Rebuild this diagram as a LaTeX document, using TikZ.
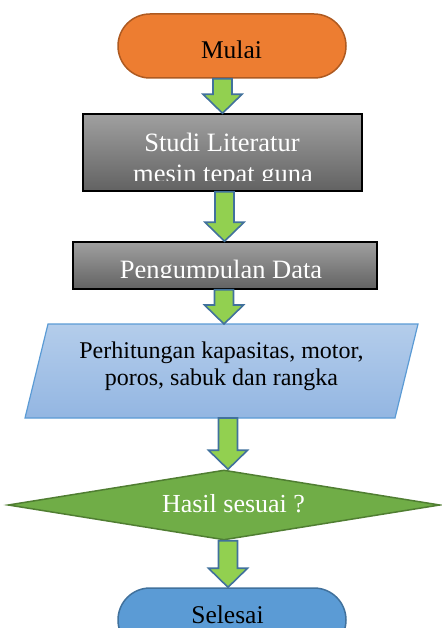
\documentclass[tikz,border=0pt]{standalone}
\usepackage{fontspec}
\setmainfont{Liberation Serif}
\usetikzlibrary{shapes.misc,shapes.geometric,calc}
\definecolor{orangef}{HTML}{ED7D31}
\definecolor{oranged}{HTML}{AE5A21}
\definecolor{bluef}{HTML}{5B9BD5}
\definecolor{blued}{HTML}{41719C}
\definecolor{greenf}{HTML}{70AD47}
\definecolor{greend}{HTML}{507E32}
\definecolor{arrowf}{HTML}{92D050}
\definecolor{arrowd}{HTML}{41719C}
\definecolor{grayt}{RGB}{160,160,160}
\definecolor{grayb}{RGB}{98,98,98}
\definecolor{parat}{HTML}{B4CDEB}
\definecolor{parab}{HTML}{93B6E2}
\definecolor{parad}{HTML}{5B9BD5}
\newcommand\flowarrow[3]{%
  \draw[blockarr] let \p1=(#2), \p2=(#3) in
    (#1pt-9.5pt,\y1) -- (#1pt+9.5pt,\y1) -- (#1pt+9.5pt,\y2+19pt) --
    (#1pt+19.5pt,\y2+19pt) -- (#1pt,\y2) -- (#1pt-19.5pt,\y2+19pt) --
    (#1pt-9.5pt,\y2+19pt) -- cycle;}
\begin{document}
\begin{tikzpicture}[x=1pt,y=-1pt,
  terminal/.style={rounded rectangle, minimum width=228pt, minimum height=64pt,
    line width=1.5pt, inner sep=0pt},
  graybox/.style={rectangle, draw=black, line width=1.5pt, top color=grayt,
    bottom color=grayb, inner sep=0pt},
  lbl/.style={anchor=base, inner sep=0pt, font=\fontsize{26.5}{30}\selectfont},
  tlbl/.style={anchor=base, inner sep=0pt, font=\fontsize{25.5}{30}\selectfont},
  plbl/.style={anchor=base, inner sep=0pt, font=\fontsize{24}{28}\selectfont},
  blockarr/.style={draw=arrowd, fill=arrowf, line width=1.6pt, line join=miter},
]
\useasboundingbox (0,0) rectangle (441,628);

% Mulai
\node[terminal, fill=orangef, draw=oranged] (mulai) at (232,46) {};
\begin{scope}
  \clip (0,0) rectangle (441,57.5);
  \node[tlbl, text=black] (mulaiT) at (231.5,59) {Mulai};
\end{scope}

% Studi Literatur
\node[graybox, minimum width=279pt, minimum height=77pt] (studi) at (222.5,152.5) {};
\begin{scope}
  \clip (0,0) rectangle (441,181);
  \node[lbl, text=white] (studiA) at (222,152) {Studi Literatur};
  \node[lbl, text=white] (studiB) at (223,182.5) {mesin tepat guna};
\end{scope}

% Pengumpulan Data
\node[graybox, minimum width=304pt, minimum height=47pt] (kumpul) at (225,265.5) {};
\begin{scope}
  \clip (0,0) rectangle (441,277);
  \node[lbl, text=white] (kumpulT) at (221,278.5) {Pengumpulan Data};
\end{scope}

% Perhitungan (parallelogram)
\shade[top color=parat, bottom color=parab, draw=parad, line width=1.2pt]
  (48,324) -- (418,324) -- (395,418) -- (25,418) -- cycle;
\coordinate (calcTop) at (224,324);
\coordinate (calcBot) at (228,418);
\node[plbl] (calcA) at (221.5,358) {Perhitungan kapasitas, motor,};
\node[plbl] (calcB) at (221.5,385) {poros, sabuk dan rangka};

% Hasil sesuai ?
\node[diamond, minimum width=432pt, minimum height=70pt, inner sep=0pt,
  fill=greenf, draw=greend, line width=1.5pt] (hasil) at (224,505) {};
\node[lbl, text=white, font=\fontsize{26}{30}\selectfont] (hasilT) at (233.5,512) {Hasil sesuai ?};

% Selesai
\node[terminal, fill=bluef, draw=blued] (selesai) at (232,620) {};
\node[tlbl, text=black] (selesaiT) at (227.5,623.5) {Selesai};

% Arrows
\flowarrow{222.5}{mulai.south}{studi.north}
\flowarrow{224.5}{studi.south}{kumpul.north}
\flowarrow{224}{kumpul.south}{calcTop}
\flowarrow{228}{calcBot}{hasil.north}
\flowarrow{228}{hasil.south}{selesai.north}
\end{tikzpicture}
\end{document}
